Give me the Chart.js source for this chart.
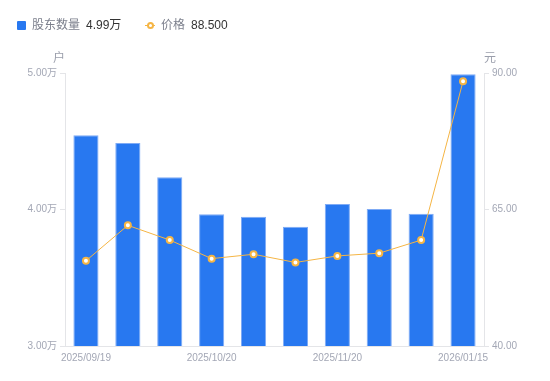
<!DOCTYPE html>
<html>
<head>
<meta charset="utf-8">
<script src="https://cdn.jsdelivr.net/npm/chart.js@4/dist/chart.umd.min.js"></script>
<style>
  html, body { margin: 0; padding: 0; background: #fff; }
  #wrap { position: relative; width: 550px; height: 381px; font-family: "Liberation Sans", "Noto Sans CJK SC", sans-serif; }
  #grafico { position: absolute; left: 0; top: 0; }
  .leg { position: absolute; top: 17px; font-size: 12px; line-height: 17px; white-space: nowrap; }
  .leg .nome { color: #7b7f8c; }
  .leg .valor { color: #333; margin-left: 6px; }
  .quad { display: inline-block; width: 9px; height: 9px; background: #2878f0; border-radius: 1px; margin-right: 6px; vertical-align: -1px; }
  .linha { display: inline-block; position: relative; width: 10px; height: 9px; margin-right: 6px; vertical-align: -1px; }
  .linha:before { content: ""; position: absolute; left: 0; right: 0; top: 4px; height: 1px; background: #f5b544; }
  .linha:after { content: ""; position: absolute; left: 2px; top: 1px; width: 3px; height: 3px; border: 2px solid #f5b544; border-radius: 50%; background: #fff; }
</style>
</head>
<body>
<div id="wrap">
  <canvas id="grafico" width="550" height="381"></canvas>
  <div class="leg" style="left:17px"><span class="quad"></span><span class="nome">股东数量</span><span class="valor">4.99万</span></div>
  <div class="leg" style="left:145px"><span class="linha"></span><span class="nome">价格</span><span class="valor">88.500</span></div>
</div>
<script>
let datas = ["2025/09/19", "2025/09/30", "2025/10/10", "2025/10/20", "2025/10/31", "2025/11/10", "2025/11/20", "2025/11/28", "2025/12/31", "2026/01/15"];
let acionistas = [45440, 44870, 42360, 39650, 39470, 38740, 40400, 40040, 39690, 49900];
let precos = [55.6, 62.1, 59.4, 56.0, 56.8, 55.3, 56.5, 57.0, 59.4, 88.5];

let corTexto = "#a3a7b5";
let corEixo = "#e4e5e8";

// titulos dos eixos (户 / 元)
let titulosEixos = {
  id: "titulosEixos",
  afterDraw(chart) {
    let ctx = chart.ctx;
    let area = chart.chartArea;
    ctx.save();
    ctx.font = "12px 'Noto Sans CJK SC', sans-serif";
    ctx.fillStyle = "#9a9eab";
    ctx.textAlign = "center";
    ctx.textBaseline = "middle";
    ctx.fillText("户", area.left - 6, area.top - 16);
    ctx.fillText("元", area.right + 6, area.top - 16);
    ctx.restore();
  }
};

let ctx = document.getElementById("grafico").getContext("2d");

new Chart(ctx, {
  data: {
    labels: datas,
    datasets: [
      {
        type: "line",
        label: "价格",
        data: precos,
        yAxisID: "y2",
        borderColor: "#f5b544",
        borderWidth: 1,
        pointRadius: 3,
        pointBorderWidth: 2,
        pointBackgroundColor: "#fff",
        pointBorderColor: "#f5b544",
        tension: 0,
        order: 0
      },
      {
        type: "bar",
        label: "股东数量",
        data: acionistas,
        yAxisID: "y",
        backgroundColor: "#2878f0",
        borderColor: "#7fabf5",
        borderWidth: { top: 1, left: 1, right: 1, bottom: 0 },
        categoryPercentage: 1,
        barPercentage: 0.6,
        order: 1
      }
    ]
  },
  options: {
    responsive: false,
    animation: false,
    layout: { padding: { top: 73, left: 0, right: 0, bottom: 0 } },
    plugins: {
      legend: { display: false },
      tooltip: { enabled: false }
    },
    scales: {
      x: {
        grid: { display: false, drawTicks: false },
        border: { color: corEixo },
        ticks: {
          color: corTexto,
          font: { size: 10, family: "'Liberation Sans', sans-serif" },
          maxRotation: 0,
          autoSkip: false,
          padding: 6,
          callback: function (v, i) {
            return i % 3 === 0 ? datas[i] : "";
          }
        },
        afterFit: function (s) { s.height = 35; }
      },
      y: {
        position: "left",
        min: 30000,
        max: 50000,
        grid: { drawOnChartArea: false, tickLength: 5, color: corEixo },
        border: { color: corEixo },
        ticks: {
          stepSize: 10000,
          color: corTexto,
          padding: 3,
          font: { size: 10, family: "'Liberation Sans', 'Noto Sans CJK SC', sans-serif" },
          callback: function (v) { return (v / 10000).toFixed(2) + "万"; }
        },
        afterFit: function (s) { s.width = 65; }
      },
      y2: {
        position: "right",
        min: 40,
        max: 90,
        grid: { drawOnChartArea: false, tickLength: 5, color: corEixo },
        border: { color: corEixo },
        ticks: {
          stepSize: 25,
          color: corTexto,
          padding: 3,
          font: { size: 10, family: "'Liberation Sans', sans-serif" },
          callback: function (v) { return v.toFixed(2); }
        },
        afterFit: function (s) { s.width = 66; }
      }
    }
  },
  plugins: [titulosEixos]
});
</script>
</body>
</html>
